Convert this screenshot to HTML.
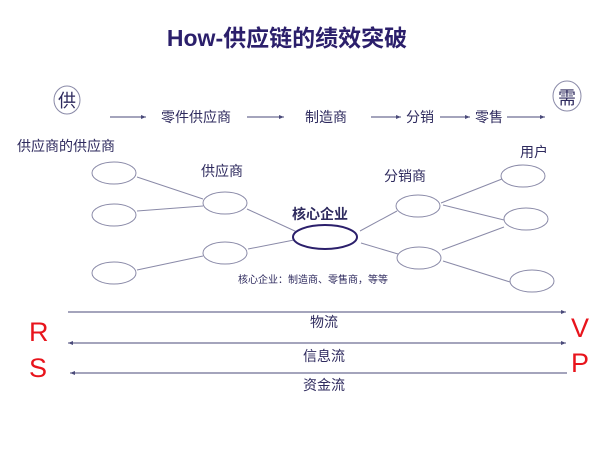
<!DOCTYPE html>
<html><head><meta charset="utf-8"><style>
html,body{margin:0;padding:0;background:#fff;width:600px;height:450px;overflow:hidden}
svg{display:block}
text{font-family:"Liberation Sans","Noto Sans CJK SC",sans-serif;fill:#2e2a5e}
</style></head><body>
<svg width="600" height="450" viewBox="0 0 600 450">
<defs>
<marker id="a" markerWidth="6" markerHeight="6" refX="5" refY="3" orient="auto"><path d="M0,1 L5,3 L0,5 z" fill="#4a4a7a"/></marker>
<marker id="b" markerWidth="6" markerHeight="6" refX="1" refY="3" orient="auto"><path d="M6,1 L1,3 L6,5 z" fill="#4a4a7a"/></marker>
</defs>
<text x="287" y="46" text-anchor="middle" font-size="23" font-weight="bold" style="fill:#2b1f6b">How-供应链的绩效突破</text>
<g fill="none" stroke="#8a8aa8" stroke-width="1">
<ellipse cx="67" cy="100" rx="13" ry="14"/>
<ellipse cx="567" cy="96" rx="14" ry="15"/>
</g>
<text x="67" y="107" text-anchor="middle" font-size="18">供</text>
<text x="567" y="104" text-anchor="middle" font-size="18">需</text>
<g stroke="#4a4a7a" stroke-width="1" marker-end="url(#a)">
<line x1="110" y1="117" x2="146" y2="117"/>
<line x1="247" y1="117" x2="284" y2="117"/>
<line x1="371" y1="117" x2="401" y2="117"/>
<line x1="440" y1="117" x2="470" y2="117"/>
<line x1="507" y1="117" x2="545" y2="117"/>
</g>
<g font-size="14">
<text x="161" y="122">零件供应商</text>
<text x="305" y="122">制造商</text>
<text x="406" y="122">分销</text>
<text x="475" y="122">零售</text>
<text x="17" y="151">供应商的供应商</text>
<text x="201" y="176">供应商</text>
<text x="384" y="181">分销商</text>
<text x="520" y="157">用户</text>
</g>
<text x="292" y="219" font-size="14" font-weight="bold">核心企业</text>
<text x="238" y="283" font-size="10">核心企业：制造商、零售商，等等</text>
<g fill="none" stroke="#8a8aa8" stroke-width="1">
<ellipse cx="114" cy="173" rx="22" ry="11"/>
<ellipse cx="114" cy="215" rx="22" ry="11"/>
<ellipse cx="114" cy="273" rx="22" ry="11"/>
<ellipse cx="225" cy="203" rx="22" ry="11"/>
<ellipse cx="225" cy="253" rx="22" ry="11"/>
<ellipse cx="418" cy="206" rx="22" ry="11"/>
<ellipse cx="419" cy="258" rx="22" ry="11"/>
<ellipse cx="523" cy="176" rx="22" ry="11"/>
<ellipse cx="526" cy="219" rx="22" ry="11"/>
<ellipse cx="532" cy="281" rx="22" ry="11"/>
<line x1="137" y1="177" x2="203" y2="199"/>
<line x1="137" y1="211" x2="203" y2="206"/>
<line x1="137" y1="270" x2="203" y2="256"/>
<line x1="247" y1="209" x2="297" y2="232"/>
<line x1="248" y1="249" x2="294" y2="240"/>
<line x1="360" y1="231" x2="397" y2="211"/>
<line x1="361" y1="243" x2="398" y2="254"/>
<line x1="441" y1="203" x2="502" y2="179"/>
<line x1="443" y1="205" x2="504" y2="220"/>
<line x1="442" y1="250" x2="504" y2="227"/>
<line x1="443" y1="261" x2="510" y2="282"/>
</g>
<ellipse cx="325" cy="237" rx="32" ry="12" fill="none" stroke="#2b1f6b" stroke-width="2"/>
<g stroke="#4a4a7a" stroke-width="1">
<line x1="68" y1="312" x2="566" y2="312" marker-end="url(#a)"/>
<line x1="68" y1="343" x2="566" y2="343" marker-end="url(#a)" marker-start="url(#b)"/>
<line x1="70" y1="373" x2="567" y2="373" marker-start="url(#b)"/>
</g>
<g font-size="14">
<text x="310" y="327">物流</text>
<text x="303" y="361">信息流</text>
<text x="303" y="390">资金流</text>
</g>
<g font-size="27">
<text x="29" y="341" style="fill:#e8141c">R</text>
<text x="29" y="377" style="fill:#e8141c">S</text>
<text x="571" y="337" style="fill:#e8141c">V</text>
<text x="571" y="372" style="fill:#e8141c">P</text>
</g>
</svg>
</body></html>
